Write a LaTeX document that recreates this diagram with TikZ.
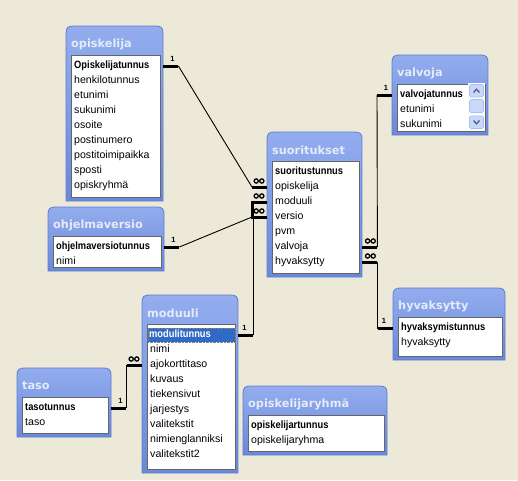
\documentclass[tikz,border=0pt]{standalone}
\usepackage{fontspec}
\setmainfont{Liberation Sans}
\newfontfamily\titlefont{DejaVu Sans}
\newfontfamily\keyfont{Liberation Sans}[FakeStretch=0.88]
\usetikzlibrary{calc}
\definecolor{bgcol}{HTML}{ECE9D8}
\definecolor{paneltop}{HTML}{93ADEE}
\definecolor{panelbot}{HTML}{6A88DA}
\definecolor{paneledge}{HTML}{5F7CD0}
\definecolor{titlecol}{HTML}{E4EBFA}
\definecolor{selblue}{HTML}{316AC5}
\definecolor{sbfill}{HTML}{C8D7FA}
\definecolor{sbedge}{HTML}{A9BEEE}
\definecolor{sbarrow}{HTML}{4D6185}
\tikzset{
  panelnode/.style={shape=rectangle, inner sep=0pt, draw=none},
  panelfill/.style={top color=paneltop, bottom color=panelbot, draw=paneledge, line width=0.8pt},
  titletext/.style={inner sep=0pt, text=titlecol, font=\titlefont\bfseries\fontsize{11.3}{13}\selectfont},
  listbox/.style={shape=rectangle, inner sep=0pt, fill=white, draw=black!60, line width=0.8pt},
  rowtext/.style={inner sep=0pt, text height=8pt, text depth=2.5pt, font=\fontsize{10.6}{12}\selectfont},
  keytext/.style={font=\keyfont\bfseries\fontsize{10.6}{12}\selectfont},
  selected/.style={fill=selblue, text=white, inner xsep=1pt, inner ysep=1.75pt, xshift=-2pt, text width=85pt, draw=black!50, densely dotted},
  stub/.style={line width=3pt},
  thinline/.style={line width=0.9pt},
  onelab/.style={inner sep=0pt, font=\bfseries\fontsize{7.5}{8}\selectfont},
  sbbtn/.style={fill=sbfill, draw=sbedge, line width=0.6pt, rounded corners=1.5pt},
  sbarr/.style={draw=sbarrow, line width=1.3pt},
  infmark/.pic={\draw[line width=1.3pt] (-2.8,0) circle[radius=2.1] (2.8,0) circle[radius=2.1];}
}
% name, x1, y1, x2, y2, title, key row, other rows, key style
\newcommand\dbtable[9]{%
  \node[panelnode, minimum width={(#4-#2)*1pt}, minimum height={(#5-#3)*1pt}, anchor=north west] (#1-p) at (#2,#3) {};
  \shadedraw[panelfill] (#2,#5) -- (#2,{#3+7}) .. controls (#2,{#3+2}) and ({#2+2},#3) .. ({#2+7},#3) -- ({#4-7},#3) .. controls ({#4-2},#3) and (#4,{#3+2}) .. (#4,{#3+7}) -- (#4,#5) -- cycle;
  \node[titletext, anchor=west] (#1-t) at ({#2+5},{#3+18}) {#6};
  \node[listbox, anchor=north west, minimum width={(#4-#2-8)*1pt}, minimum height={(#5-#3-33)*1pt}] (#1) at ({#2+5},{#3+29}) {};
  \node[rowtext, keytext, #9, anchor=west] (#1-1) at ({#2+8},{#3+40}) {#7};
  \foreach \t [count=\i from 2] in {#8} {
    \node[rowtext, anchor=west] (#1-\i) at ({#2+8},{#3+40+(\i-1)*15}) {\t};
  }
}
\begin{document}
\begin{tikzpicture}[x=1pt, y=-1pt]
\useasboundingbox (0,0) rectangle (518,480);
\fill[bgcol] (0,0) rectangle (518,480);

\dbtable{opiskelija}{66}{26}{163}{201}{opiskelija}{Opiskelijatunnus}{henkilotunnus,etunimi,sukunimi,osoite,postinumero,postitoimipaikka,sposti,opiskryhmä}{}
\dbtable{suoritukset}{267}{132}{362}{277}{suoritukset}{suoritustunnus}{opiskelija,moduuli,versio,pvm,valvoja,hyvaksytty}{}
\dbtable{valvoja}{392}{55}{488}{135}{valvoja}{valvojatunnus}{etunimi,sukunimi}{}
\dbtable{ohjelmaversio}{48}{207}{164}{271}{ohjelmaversio}{ohjelmaversiotunnus}{nimi}{}
\dbtable{moduuli}{142}{295}{238}{473}{moduuli}{modulitunnus}{nimi,ajokorttitaso,kuvaus,tiekensivut,jarjestys,valitekstit,nimienglanniksi,valitekstit2}{selected}
\dbtable{taso}{17}{368}{111}{437}{taso}{tasotunnus}{taso}{}
\dbtable{opiskelijaryhma}{243}{386}{387}{455}{opiskelijaryhmä}{opiskelijartunnus}{opiskelijaryhma}{}
\dbtable{hyvaksytty}{393}{288}{505}{360}{hyvaksytty}{hyvaksymistunnus}{hyvaksytty}{}

% scrollbar of valvoja
\fill[white!94!sbfill] (468,83) rectangle (485,130);
\draw[sbbtn] (469.5,84.5) rectangle (483.5,97);
\draw[sbarr] (473.5,92.5) -- (476.5,89.2) -- (479.5,92.5);
\draw[sbbtn] (469.5,99.5) rectangle (483.5,112.5);
\draw[sbbtn] (469.5,116) rectangle (483.5,128.5);
\draw[sbarr] (473.5,120.5) -- (476.5,123.8) -- (479.5,120.5);

% connector opiskelija -> suoritukset
\coordinate (c1a) at ($(opiskelija-1 -| opiskelija-p.east)+(15,0)$);
\coordinate (c1b) at ($(suoritukset-2 -| suoritukset-p.west)+(-15,0)$);
\draw[stub] (opiskelija-1 -| opiskelija-p.east) -- (c1a);
\draw[stub] (suoritukset-2 -| suoritukset-p.west) -- (c1b);
\draw[thinline] (c1a) -- (c1b);
\node[onelab] (l1) at ($(c1a)+(-6,-7)$) {1};
\pic at ($(c1b)+(7,-6)$) {infmark};

% connector ohjelmaversio -> suoritukset
\coordinate (c2a) at ($(ohjelmaversio-1 -| ohjelmaversio-p.east)+(15,0)$);
\coordinate (c2b) at ($(suoritukset-4 -| suoritukset-p.west)+(-15,0)$);
\draw[stub] (ohjelmaversio-1 -| ohjelmaversio-p.east) -- (c2a);
\draw[stub] (suoritukset-4 -| suoritukset-p.west) -- (c2b);
\draw[thinline] (c2a) -- (c2b);
\node[onelab] (l2) at ($(c2a)+(-6,-7)$) {1};
\pic at ($(c2b)+(7,-6)$) {infmark};

% connector moduuli -> suoritukset
\coordinate (c3a) at ($(moduuli-1 -| moduuli-p.east)+(15,0)$);
\coordinate (c3b) at ($(suoritukset-3 -| suoritukset-p.west)+(-15,0)$);
\draw[stub] (moduuli-1 -| moduuli-p.east) -- (c3a);
\draw[stub] (suoritukset-3 -| suoritukset-p.west) -- (c3b);
\draw[thinline] (c3a) -- (c3a |- c3b) -- (c3b);
\draw[stub] ($(c3b)+(0,-1.5)$) -- ($(c2b)+(0,1.5)$);
\node[onelab] (l3) at ($(moduuli-1 -| moduuli-p.east)+(6,-7)$) {1};
\pic at ($(c3b)+(7,-6)$) {infmark};

% connector suoritukset -> valvoja
\coordinate (c4a) at ($(suoritukset-6 -| suoritukset-p.east)+(15,0)$);
\coordinate (c4b) at ($(valvoja-1 -| valvoja-p.west)+(-15,0)$);
\draw[stub] (suoritukset-6 -| suoritukset-p.east) -- (c4a);
\draw[stub] (valvoja-1 -| valvoja-p.west) -- (c4b);
\draw[thinline] (c4a) -- (c4b);
\node[onelab] (l4) at ($(valvoja-1 -| valvoja-p.west)+(-6,-7)$) {1};
\pic at ($(c4a)+(-7,-6)$) {infmark};

% connector suoritukset -> hyvaksytty
\coordinate (c5a) at ($(suoritukset-7 -| suoritukset-p.east)+(15,0)$);
\coordinate (c5b) at ($(hyvaksytty-1 -| hyvaksytty-p.west)+(-15,0)$);
\draw[stub] (suoritukset-7 -| suoritukset-p.east) -- (c5a);
\draw[stub] (hyvaksytty-1 -| hyvaksytty-p.west) -- (c5b);
\draw[thinline] (c5a) |- (c5b);
\node[onelab] (l5) at ($(hyvaksytty-1 -| hyvaksytty-p.west)+(-9,-7)$) {1};
\pic at ($(c5a)+(-7,-6)$) {infmark};

% connector taso -> moduuli
\coordinate (c6a) at ($(taso-1 -| taso-p.east)+(15,0)$);
\coordinate (c6b) at ($(moduuli-3 -| moduuli-p.west)+(-15,0)$);
\draw[stub] (taso-1 -| taso-p.east) -- (c6a);
\draw[stub] (moduuli-3 -| moduuli-p.west) -- (c6b);
\draw[thinline] (c6a) |- (c6b);
\node[onelab] (l6) at ($(taso-1 -| taso-p.east)+(9,-7)$) {1};
\pic at ($(c6b)+(7,-6)$) {infmark};
\end{tikzpicture}
\end{document}
